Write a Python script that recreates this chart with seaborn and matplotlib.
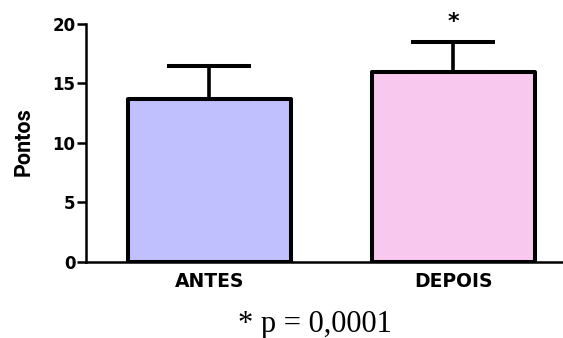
import numpy as np
import matplotlib
matplotlib.use("Agg")
import matplotlib.pyplot as plt
import seaborn as sns

# Scores before and after
categories = ["ANTES", "DEPOIS"]
means = [13.7, 16.0]
sds = [2.8, 2.5]
bar_colors = ["#c0c0ff", "#f8c8ee"]
y_ticks = [0, 5, 10, 15, 20]
significant = [False, True]
p_text = "* p = 0,0001"

sns.set_style("ticks")
plt.rcParams["font.family"] = ["DejaVu Sans"]
plt.rcParams["text.color"] = "black"
plt.rcParams["axes.labelcolor"] = "black"
plt.rcParams["xtick.color"] = "black"
plt.rcParams["ytick.color"] = "black"

fig = plt.figure(figsize=(5.63, 3.38), dpi=100)
ax = fig.add_axes([0.1528, 0.2249, 0.8472, 0.7041])

sns.barplot(x=categories, y=means, hue=categories, palette=bar_colors,
            saturation=1, width=0.668, edgecolor="black", linewidth=2.9,
            legend=False, errorbar=None, ax=ax)
for p in ax.patches:
    p.set_joinstyle("round")

# upward-only SD bars
ax.errorbar(x=np.arange(len(categories)), y=means,
            yerr=[np.zeros(len(sds)), sds], fmt="none", ecolor="black",
            elinewidth=2.6, capsize=30, capthick=2.9, zorder=1)

# significance marker above the error bar
for i, (m, s, sig) in enumerate(zip(means, sds, significant)):
    if sig:
        ax.text(i, m + s + 1.2, "*", ha="center", va="baseline",
                fontsize=16, fontweight="bold", clip_on=False)

ax.set_xlim(-0.506, 1.449)
ax.set_ylim(0, 20)
ax.set_yticks(y_ticks)
ax.set_yticklabels([str(t) for t in y_ticks], fontsize=12, fontweight="bold")
ax.set_xticks(range(len(categories)))
ax.set_xticklabels(categories, fontsize=13.5, fontweight="bold")
ax.tick_params(axis="x", length=0, pad=7)
ax.tick_params(axis="y", length=6.5, width=1.8, pad=1, direction="out")

for side in ("top", "right"):
    ax.spines[side].set_visible(False)
for side in ("left", "bottom"):
    ax.spines[side].set_linewidth(1.8)
    ax.spines[side].set_color("black")

ax.set_xlabel("")
ax.set_ylabel("Pontos", fontsize=15.5, fontweight="bold",
              family=["Roboto", "DejaVu Sans"])
ax.yaxis.set_label_coords(-0.108, 0.504)

fig.text(0.5595, 0.0178, p_text, ha="center", va="baseline",
         fontsize=22, family=["Liberation Serif", "DejaVu Serif"])

fig.savefig("out.png", dpi=100)
